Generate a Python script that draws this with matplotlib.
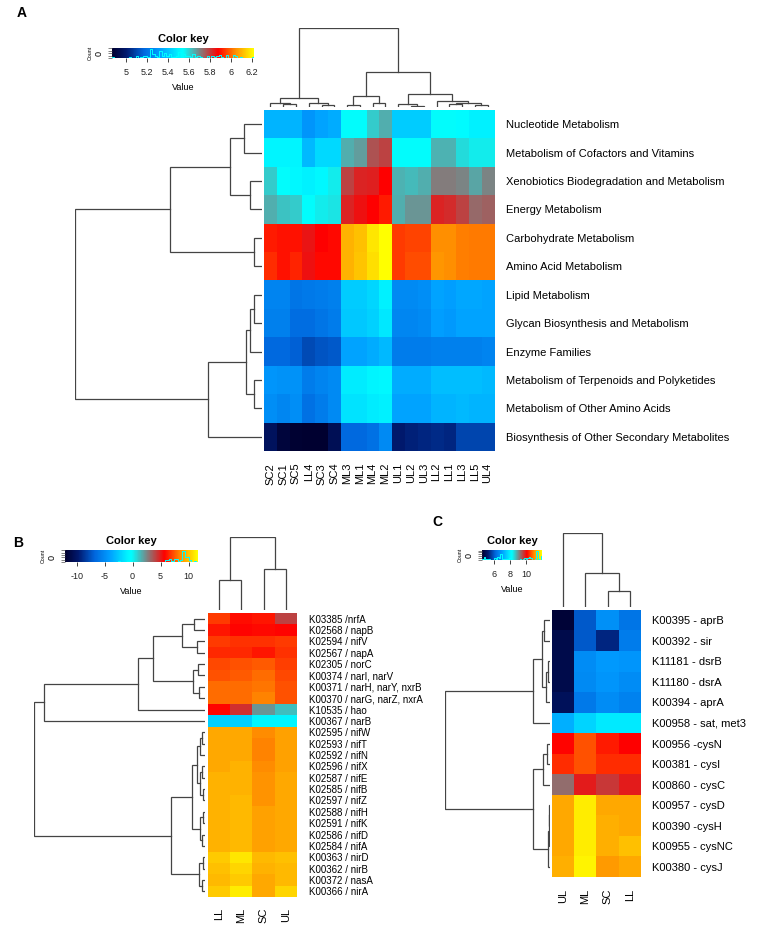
import numpy as np
import matplotlib
matplotlib.use('Agg')
import matplotlib.pyplot as plt
from matplotlib.colors import LinearSegmentedColormap

plt.rcParams['font.family'] = ['Liberation Sans', 'DejaVu Sans']

# ---------------- data ----------------
a_rows = ['Nucleotide Metabolism', 'Metabolism of Cofactors and Vitamins',
          'Xenobiotics Biodegradation and Metabolism', 'Energy Metabolism',
          'Carbohydrate Metabolism', 'Amino Acid Metabolism', 'Lipid Metabolism',
          'Glycan Biosynthesis and Metabolism', 'Enzyme Families',
          'Metabolism of Terpenoids and Polyketides', 'Metabolism of Other Amino Acids',
          'Biosynthesis of Other Secondary Metabolites']
a_cols = ['SC2', 'SC1', 'SC5', 'LL4', 'SC3', 'SC4', 'ML3', 'ML1', 'ML4', 'ML2',
          'UL1', 'UL2', 'UL3', 'LL2', 'LL1', 'LL3', 'LL5', 'UL4']
a_values = [
    [5.37, 5.37, 5.37, 5.30, 5.33, 5.35, 5.55, 5.55, 5.61, 5.65, 5.42, 5.42, 5.42, 5.545, 5.545, 5.53, 5.50, 5.50],
    [5.51, 5.51, 5.51, 5.38, 5.45, 5.45, 5.65, 5.67, 5.77, 5.79, 5.545, 5.545, 5.545, 5.64, 5.64, 5.59, 5.57, 5.57],
    [5.61, 5.545, 5.52, 5.50, 5.52, 5.57, 5.79, 5.83, 5.84, 5.88, 5.64, 5.63, 5.65, 5.71, 5.71, 5.70, 5.66, 5.70],
    [5.65, 5.62, 5.61, 5.545, 5.57, 5.58, 5.83, 5.86, 5.88, 5.91, 5.65, 5.68, 5.68, 5.83, 5.82, 5.79, 5.74, 5.75],
    [5.91, 5.90, 5.90, 5.855, 5.88, 5.89, 6.10, 6.125, 6.18, 6.22, 5.95, 5.96, 5.96, 6.05, 6.05, 6.03, 6.02, 6.02],
    [5.93, 5.90, 5.92, 5.86, 5.89, 5.89, 6.10, 6.13, 6.17, 6.22, 5.95, 5.97, 5.97, 6.06, 6.05, 6.03, 6.02, 6.02],
    [5.25, 5.25, 5.21, 5.22, 5.23, 5.24, 5.42, 5.42, 5.44, 5.50, 5.27, 5.27, 5.28, 5.33, 5.32, 5.34, 5.34, 5.33],
    [5.24, 5.24, 5.19, 5.19, 5.21, 5.23, 5.41, 5.41, 5.43, 5.48, 5.26, 5.26, 5.27, 5.32, 5.31, 5.33, 5.33, 5.33],
    [5.18, 5.18, 5.16, 5.11, 5.13, 5.14, 5.33, 5.33, 5.35, 5.38, 5.23, 5.23, 5.23, 5.24, 5.24, 5.24, 5.24, 5.25],
    [5.30, 5.29, 5.29, 5.23, 5.25, 5.27, 5.49, 5.49, 5.51, 5.52, 5.35, 5.35, 5.35, 5.39, 5.39, 5.39, 5.39, 5.38],
    [5.28, 5.26, 5.28, 5.20, 5.23, 5.27, 5.47, 5.47, 5.49, 5.50, 5.33, 5.33, 5.33, 5.37, 5.37, 5.38, 5.37, 5.37],
    [4.97, 4.90, 4.88, 4.87, 4.87, 4.95, 5.18, 5.18, 5.20, 5.27, 5.00, 5.02, 5.03, 5.04, 5.03, 5.10, 5.10, 5.10],
]
a_range = (4.87, 6.22)
a_key_ticks = [5.0, 5.2, 5.4, 5.6, 5.8, 6.0, 6.2]
a_key_labels = ['5', '5.2', '5.4', '5.6', '5.8', '6', '6.2']
# linkage: (left, right, height); leaves in display order, new nodes numbered from n
a_row_links = [(0, 1, 18), (2, 3, 12), (12, 13, 32), (4, 5, 8), (14, 15, 92),
               (6, 7, 8), (17, 8, 12), (9, 10, 8), (18, 19, 16), (20, 11, 54), (16, 21, 187)]
a_col_links = [(1, 2, 3), (0, 18, 4), (4, 5, 2.5), (3, 20, 4), (19, 21, 9),
               (6, 7, 2), (8, 9, 4), (23, 24, 11),
               (11, 12, 1), (10, 26, 3), (14, 15, 3), (16, 17, 2), (28, 29, 4), (13, 30, 6),
               (27, 31, 13), (25, 32, 35), (22, 33, 79)]

b_rows = ['K03385 /nrfA', 'K02568 / napB', 'K02594 / nifV', 'K02567 / napA', 'K02305 / norC',
          'K00374 / narI, narV', 'K00371 / narH, narY, nxrB', 'K00370 / narG, narZ, nxrA',
          'K10535 / hao', 'K00367 / narB', 'K02595 / nifW', 'K02593 / nifT', 'K02592 / nifN',
          'K02596 / nifX', 'K02587 / nifE', 'K02585 / nifB', 'K02597 / nifZ', 'K02588 / nifH',
          'K02591 / nifK', 'K02586 / nifD', 'K02584 / nifA', 'K00363 / nirD', 'K00362 / nirB',
          'K00372 / nasA', 'K00366 / nirA']
b_cols = ['LL', 'ML', 'SC', 'UL']
b_values = [
    [6.9, 6.0, 6.2, 4.1], [6.2, 5.8, 5.9, 5.8], [6.9, 6.7, 6.7, 6.9], [6.5, 6.5, 6.2, 6.7],
    [7.2, 7.4, 7.6, 7.0], [7.4, 7.6, 7.9, 7.2], [7.9, 7.9, 8.1, 7.4], [7.9, 7.9, 8.4, 7.4],
    [5.8, 4.6, 2.2, 1.2], [-2.3, -2.3, -0.8, -0.8],
    [9.3, 9.3, 8.6, 9.1], [9.3, 9.3, 8.4, 9.1], [9.3, 9.3, 8.4, 9.1], [9.3, 9.6, 8.6, 9.1],
    [9.6, 9.6, 8.8, 9.3], [9.6, 9.6, 8.8, 9.3], [9.6, 9.8, 8.8, 9.3], [9.6, 9.8, 9.1, 9.3],
    [9.6, 9.8, 9.1, 9.3], [9.6, 9.8, 9.1, 9.3], [9.6, 9.8, 9.1, 9.3],
    [10.3, 11.0, 9.8, 10.0], [10.0, 10.5, 9.6, 9.8], [9.8, 10.3, 9.3, 9.8], [10.3, 11.2, 9.3, 10.5],
]
b_range = (-12.1, 11.7)
b_key_ticks = [-10, -5, 0, 5, 10]
b_key_labels = ['-10', '-5', '0', '5', '10']
b_row_links = [(0, 1, 11), (2, 3, 8), (25, 26, 23), (4, 5, 7), (6, 7, 6), (28, 29, 12),
               (27, 30, 52), (31, 8, 67), (32, 9, 161),
               (10, 11, 3), (34, 12, 5), (13, 14, 3), (15, 16, 2), (36, 37, 5), (35, 38, 8),
               (17, 18, 2), (19, 20, 3), (40, 41, 5), (39, 42, 13),
               (21, 22, 2), (23, 24, 3), (44, 45, 6), (43, 46, 34), (33, 47, 171)]
b_col_links = [(0, 1, 30), (2, 3, 41), (4, 5, 73)]

c_rows = ['K00395 - aprB', 'K00392 - sir', 'K11181 - dsrB', 'K11180 - dsrA', 'K00394 - aprA',
          'K00958 - sat, met3', 'K00956 -cysN', 'K00381 - cysI', 'K00860 - cysC',
          'K00957 - cysD', 'K00390 -cysH', 'K00955 - cysNC', 'K00380 - cysJ']
c_cols = ['UL', 'ML', 'SC', 'LL']
c_values = [
    [4.6, 6.0, 6.8, 6.4], [4.85, 6.0, 5.4, 6.5], [4.85, 6.75, 6.95, 6.9], [4.85, 6.7, 6.9, 6.75],
    [5.0, 6.45, 6.75, 6.6], [7.2, 7.65, 7.9, 7.9], [10.15, 10.65, 10.3, 10.1],
    [10.4, 10.65, 10.4, 10.4], [9.3, 9.9, 9.7, 9.9], [11.25, 11.85, 11.25, 11.25],
    [11.25, 11.85, 11.3, 11.25], [11.25, 11.85, 11.3, 11.45], [11.3, 11.9, 11.15, 11.25],
]
c_range = (4.5, 12.0)
c_key_ticks = [6, 8, 10]
c_key_labels = ['6', '8', '10']
c_row_links = [(0, 1, 6), (2, 3, 2), (14, 4, 4), (13, 15, 8), (16, 5, 17),
               (6, 7, 3), (18, 8, 7), (9, 10, 1), (20, 11, 1.5), (21, 12, 2),
               (19, 22, 17), (17, 23, 105)]
c_col_links = [(2, 3, 16), (1, 4, 34), (0, 5, 74)]

# ---------------- style ----------------
cmap = LinearSegmentedColormap.from_list('key', [
    (0.0, '#000030'), (0.1, '#001a70'), (0.22, '#0066dd'), (0.33, '#009cff'),
    (0.47, '#00f4ff'), (0.5, '#00ffff'), (0.62, '#808080'), (0.75, '#ff0000'),
    (0.87, '#ff8c00'), (1.0, '#ffff00')])
LINE = '#444444'

W, H = 767, 940
fig = plt.figure(figsize=(W / 100, H / 100), dpi=100)


def box(x0, y0, x1, y1):
    return [x0 / W, 1 - y1 / H, (x1 - x0) / W, (y1 - y0) / H]


def segments(n, links):
    pos = {i: float(i) for i in range(n)}
    hgt = {i: 0.0 for i in range(n)}
    segs = []
    for k, (a, b, h) in enumerate(links):
        pa, pb = pos[a], pos[b]
        segs.append(([pa, pa, pb, pb], [hgt[a], h, h, hgt[b]]))
        pos[n + k] = (pa + pb) / 2
        hgt[n + k] = h
    return segs


def row_dendro(x0, x1, y0, y1, n, links):
    ax = fig.add_axes(box(x0, y0, x1, y1))
    top = max(l[2] for l in links)
    for p, h in segments(n, links):
        ax.plot(h, p, color=LINE, lw=0.9, solid_joinstyle='miter')
    ax.set_xlim(top + 0.5, 0)
    ax.set_ylim(n - 0.5, -0.5)
    ax.axis('off')


def col_dendro(x0, x1, y0, y1, n, links):
    ax = fig.add_axes(box(x0, y0, x1, y1))
    top = max(l[2] for l in links)
    for p, h in segments(n, links):
        ax.plot(p, h, color=LINE, lw=0.9, solid_joinstyle='miter')
    ax.set_ylim(0, top + 0.5)
    ax.set_xlim(-0.5, n - 0.5)
    ax.axis('off')


def heat(x0, x1, y0, y1, data, rng, rows, cols, rfs, cfs, rpad, cpad):
    ax = fig.add_axes(box(x0, y0, x1, y1))
    ax.imshow(np.array(data), cmap=cmap, vmin=rng[0], vmax=rng[1], aspect='auto',
              interpolation='nearest')
    ax.yaxis.tick_right()
    ax.set_yticks(range(len(rows)))
    ax.set_yticklabels(rows, fontsize=rfs)
    ax.set_xticks(range(len(cols)))
    ax.set_xticklabels(cols, fontsize=cfs, rotation=90)
    ax.tick_params(axis='y', length=0, pad=rpad)
    ax.tick_params(axis='x', length=0, pad=cpad)
    for s in ax.spines.values():
        s.set_visible(False)
    return ax


def pretty_step(m):
    for s in [1, 2, 5, 10, 20, 50]:
        if m / s <= 7:
            return s
    return 100


def key(x0, x1, y0, y1, data, rng, ticks, labels, fs, nbins):
    ax = fig.add_axes(box(x0, y0, x1, y1))
    grad = np.linspace(rng[0], rng[1], 300)[None, :]
    ax.imshow(grad, cmap=cmap, aspect='auto', extent=[rng[0], rng[1], 0, 1],
              vmin=rng[0], vmax=rng[1], interpolation='bilinear')
    counts, edges = np.histogram(np.array(data).ravel(), bins=nbins, range=rng)
    hy = np.append(counts, counts[-1])
    ax.step(edges, hy / hy.max() * 0.95, where='post', color='cyan', lw=0.7)
    ax.set_xlim(*rng)
    ax.set_ylim(0, 1)
    st = pretty_step(hy.max())
    ax.set_yticks(np.arange(0, hy.max() + st, st) / hy.max() * 0.95)
    ax.set_yticklabels([])
    ax.set_xticks(ticks)
    ax.set_xticklabels(labels, fontsize=fs)
    ax.tick_params(axis='x', length=3, width=0.6, pad=4, colors='#222222')
    ax.tick_params(axis='y', length=3, width=0.5, colors='#555555')
    for s in ax.spines.values():
        s.set_visible(False)
    xc = (x0 + x1) / 2
    fig.text(xc / W, 1 - (y0 - 9) / H, 'Color key', fontsize=fs + 1.5, fontweight='bold',
             ha='center', va='center')
    fig.text(xc / W, 1 - (y1 + 29) / H, 'Value', fontsize=fs, ha='center', va='center')
    fig.text((x0 - 22) / W, 1 - ((y0 + y1) / 2) / H, 'Count', fontsize=3.8, rotation=90,
             ha='center', va='center')
    fig.text((x0 - 13) / W, 1 - (y1 - 2) / H, '0', fontsize=6.5, rotation=90,
             ha='center', va='bottom')


# ---------------- panel A ----------------
fig.text(22 / W, 1 - 13 / H, 'A', fontsize=10, fontweight='bold', ha='center', va='center')
heat(264, 494, 110, 451, a_values, a_range, a_rows, a_cols, 8, 8, 8.5, 8.5)
row_dendro(75, 262, 110, 451, len(a_rows), a_row_links)
col_dendro(264, 494, 28, 107, len(a_cols), a_col_links)
key(112, 254, 48, 58, a_values, a_range, a_key_ticks, a_key_labels, 6.5, 60)

# ---------------- panel B ----------------
fig.text(18 / W, 1 - 543 / H, 'B', fontsize=10, fontweight='bold', ha='center', va='center')
heat(208, 297, 613, 897, b_values, b_range, b_rows, b_cols, 7.0, 8, 8.5, 7.5)
row_dendro(34, 205, 613, 897, len(b_rows), b_row_links)
col_dendro(208, 297, 537, 610, len(b_cols), b_col_links)
key(65, 198, 550, 562, b_values, b_range, b_key_ticks, b_key_labels, 6.5, 60)

# ---------------- panel C ----------------
fig.text(437 / W, 1 - 522 / H, 'C', fontsize=10, fontweight='bold', ha='center', va='center')
heat(552, 641, 610, 877, c_values, c_range, c_rows, c_cols, 8, 8, 8, 8.5)
row_dendro(445, 550, 610, 877, len(c_rows), c_row_links)
col_dendro(552, 641, 533, 607, len(c_cols), c_col_links)
key(482, 542, 550, 560, c_values, c_range, c_key_ticks, c_key_labels, 6.5, 40)

fig.savefig('out.png', dpi=100)
